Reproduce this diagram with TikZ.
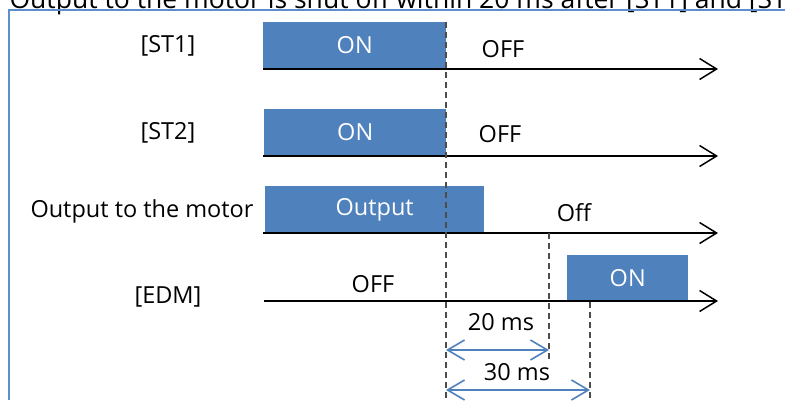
\documentclass[tikz,border=0pt]{standalone}
\usepackage{fontspec}
\setmainfont{Open Sans}
\usetikzlibrary{arrows.meta}
\definecolor{PulseClr}{rgb}{0.31,0.506,0.741}
\definecolor{FrameClr}{rgb}{0.36,0.56,0.80}

\begin{document}
\begin{tikzpicture}[x=1pt,y=-1pt,
  sig/.style={line width=1.5pt,-{Straight Barb[length=17pt,width=21pt,line width=1.5pt]}},
  pulse/.style={fill=PulseClr,text=white,inner sep=0pt,anchor=south west,font=\fontsize{23.5}{24}\selectfont},
  lbl/.style={font=\fontsize{23.5}{24}\selectfont},
  guide/.style={line width=1.1pt,color=black!70,dash pattern=on 6pt off 4pt},
  span/.style={PulseClr,line width=1.6pt,{Straight Barb[length=17pt,width=20pt,line width=1.6pt]}-{Straight Barb[length=17pt,width=20pt,line width=1.6pt]}}]

\useasboundingbox (0,0) rectangle (785,400);
\clip (0,0) rectangle (785,400);

% caption line, cut by the frame
\node[font=\fontsize{26.5}{27}\selectfont,anchor=base west] (cap) at (6,8) {Output to the motor is shut off within 20 ms after [ST1] and [ST2]};
\draw[FrameClr,line width=2pt] (8.5,400) -- (8.5,10) -- (785,10);

% signal axes
\coordinate (s1) at (263,69);  \coordinate (e1) at (718,69);
\coordinate (s2) at (263,156); \coordinate (e2) at (718,156);
\coordinate (s3) at (263,233); \coordinate (e3) at (718,233);
\coordinate (s4) at (264,301); \coordinate (e4) at (718,301);

% pulses
\node[pulse,minimum width=183pt,minimum height=47pt] (on1) at (s1) {ON};
\node[pulse,minimum width=182pt,minimum height=47pt] (on2) at (264,156) {ON};
\node[pulse,minimum width=219pt,minimum height=47pt] (out) at (265,233) {Output};
\node[pulse,minimum width=121pt,minimum height=46pt] (on4) at (567,301) {ON};

\draw[sig] (s1) -- (e1);
\draw[sig] (s2) -- (e2);
\draw[sig] (s3) -- (e3);
\draw[sig] (s4) -- (e4);

% names
\node[lbl] (st1) at (168,46) {[ST1]};
\node[lbl] (st2) at (168,133) {[ST2]};
\node[lbl] (mot) at (142,211) {Output to the motor};
\node[lbl] (edm) at (168,297) {[EDM]};

% levels
\node[lbl] (off1) at (503,49) {OFF};
\node[lbl] (off2) at (500,134) {OFF};
\node[lbl] (off3) at (574,213) {Off};
\node[lbl] (off4) at (373,284) {OFF};

% timing guides
\coordinate (t0) at (446,22);  \coordinate (b0) at (446,400);
\coordinate (t1) at (549,233); \coordinate (b1) at (549,360);
\coordinate (t2) at (590,302); \coordinate (b2) at (590,400);
\draw[guide] (t0) -- (b0);
\draw[guide] (t1) -- (b1);
\draw[guide] (t2) -- (b2);

\coordinate (a20l) at (446,350); \coordinate (a20r) at (549,350);
\coordinate (a30l) at (446,390); \coordinate (a30r) at (590,390);
\draw[span] (a20l) -- (a20r);
\draw[span] (a30l) -- (a30r);
\node[lbl] (ms20) at (501,322) {20 ms};
\node[lbl] (ms30) at (517,372) {30 ms};

\end{tikzpicture}
\end{document}
